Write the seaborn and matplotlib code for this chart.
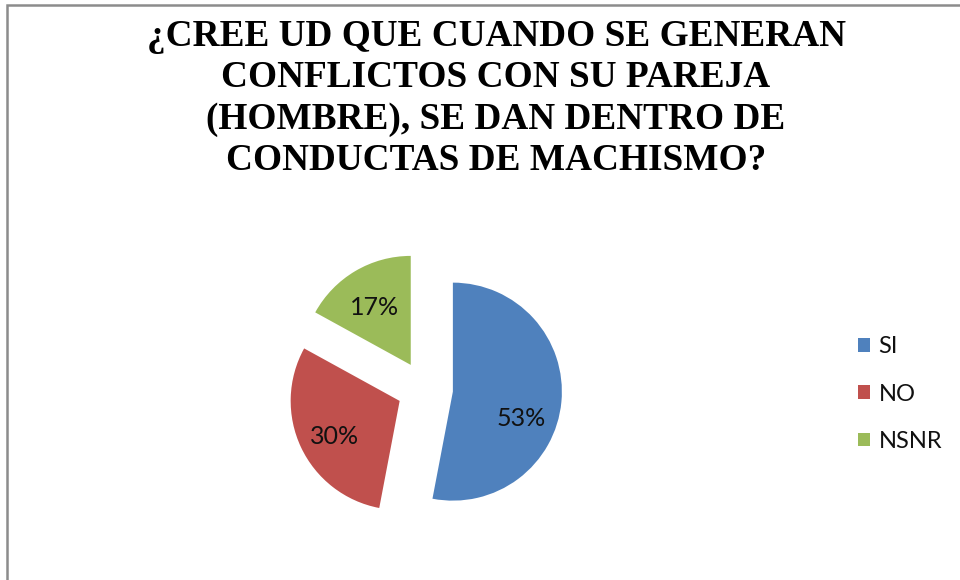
import matplotlib
matplotlib.use("Agg")
from matplotlib import pyplot as plt
from matplotlib.patches import Rectangle
import seaborn as sns

# data
labels = ["SI", "NO", "NSNR"]
values = [53, 30, 17]
colors = ["#4F81BD", "#C0504D", "#9BBB59"]
title = ("¿CREE UD QUE CUANDO SE GENERAN\nCONFLICTOS CON SU PAREJA\n"
         "(HOMBRE), SE DAN DENTRO DE\nCONDUCTAS DE MACHISMO?")

sns.set_theme(style="white")
plt.rcParams['font.family'] = ['Lato', 'DejaVu Sans']

W, H = 960, 580
fig = plt.figure(figsize=(W / 100, H / 100), dpi=100)
fig.patch.set_facecolor("white")

# chart border (runs off the right and bottom edges)
fig.patches.append(Rectangle((7 / W, -0.1), 1.2, 1.1 - 5 / H, transform=fig.transFigure,
                             fill=False, edgecolor="#8c8c8c", linewidth=1.8))

# axes in pixel units, y up
ax = fig.add_axes([0, 0, 1, 1])

wedges, texts, autotexts = ax.pie(values, colors=colors, startangle=90, counterclock=False,
                                  explode=[28] * 3, radius=109, center=(425, H - 389),
                                  autopct=lambda p: f"{p:.0f}%", pctdistance=0.66, frame=True,
                                  wedgeprops=dict(linewidth=0),
                                  textprops=dict(fontsize=18, color="#111111"))
# nudge the percentage labels down a little, as Excel places them
for i, t in enumerate(autotexts):
    x, y = t.get_position()
    t.set_position((x - (3 if i == 0 else 0), y - (20 if i == 0 else 5)))

ax.set_xlim(0, W)
ax.set_ylim(0, H)
ax.set_aspect('equal')
ax.axis('off')

# va='baseline' anchors the last line of the title
fig.text(496 / W, 1 - 170 / H, title, ha='center', va='baseline', fontsize=26.8,
         fontweight='bold', family=['Liberation Serif'], linespacing=1.23, color="black")

leg = ax.legend(wedges, labels, loc='center left', bbox_to_anchor=(858 / W, 1 - 394 / H),
                bbox_transform=fig.transFigure, frameon=False, fontsize=17, borderpad=0,
                borderaxespad=0, handlelength=0.52, handleheight=0.52, handletextpad=0.35,
                labelspacing=1.12)
for t in leg.get_texts():
    t.set_color("#111111")

fig.savefig("out.png", dpi=100)
